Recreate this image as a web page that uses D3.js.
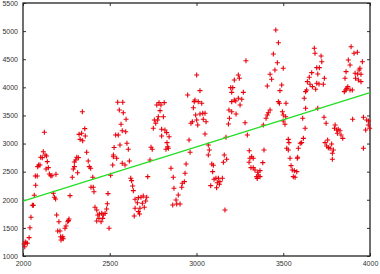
<!DOCTYPE html>
<html>
<head>
<meta charset="utf-8">
<script src="https://cdn.jsdelivr.net/npm/d3@7"></script>
<style>
  body { margin: 0; background: #fff; }
  svg text { font-family: "Liberation Sans", Arial, sans-serif; }
</style>
</head>
<body>
<svg id="chart" width="380" height="274"></svg>
<script>
// scatter values
var xs = [
  2006,2010,2017,2025,2013,2035,2040,2046,2054,2060,2065,2073,2071,2082,2085,2090,2098,2102,2111,2117,2123,2127,2136,2140,2133,2146,2152,2160,2167,2190,2175,2181,2188,2194,2207,2200,2213,2217,2229,2219,2232,2225,2242,2248,2258,2265,2262,2271,
  2284,2290,2296,2304,2310,2319,2296,2315,2342,2323,2338,2329,2344,2356,2359,2367,2376,2382,2390,2402,2392,2405,2409,2415,2425,2431,2440,2454,2463,2473,2482,2486,2438,2450,2425,2459,2496,2490,
  2505,2517,2521,2525,2521,2540,2534,2549,2546,2575,2555,2578,2594,2565,2572,2592,2559,2599,2607,2572,2613,2588,2621,2626,2632,2636,2646,2665,2680,2693,2713,2659,2688,2707,2674,2646,2699,2665,2641,2672,
  2719,2732,2738,2745,2751,2765,2757,2776,2780,2771,2784,2795,2814,2790,2809,2799,2818,2828,2799,2842,2830,2834,2824,2838,2853,2866,2870,2863,2882,2886,2895,2905,2915,2918,2930,2934,2940,
  2957,2963,2968,2976,2982,2987,2949,3001,2995,3007,3020,2991,3010,3030,3001,3020,3036,3049,3039,3055,3049,3068,3074,3068,3088,3097,3093,3101,3112,3126,3149,3135,3120,3132,3116,3082,3160,3174,3155,3164,
  3170,3184,3190,3187,3203,3203,3218,3226,3241,3261,3270,3251,3203,3197,3209,3218,3241,3247,3285,3228,3280,3293,3304,3308,3318,3327,3303,3314,3327,3337,3366,3353,3356,3366,3347,3350,3382,3389,
  3385,3401,3408,3414,3424,3408,3433,3424,3452,3443,3466,3472,3457,3481,3491,3472,3478,3500,3500,3516,3495,3514,3500,3510,
  3529,3533,3520,3529,3539,3545,3552,3564,3578,3558,3568,3581,3587,3598,3606,3616,3583,
  3612,3626,3621,3629,3635,3639,3650,3654,3664,3668,3679,3683,3693,3708,3718,3722,3699,3693,3706,3687,3737,3731,3629,3699,3735,3747,
  3741,3750,3760,3770,3756,3779,3789,3783,3783,3799,3795,3808,3817,3827,3812,3833,3843,
  3856,3862,3860,3852,3866,3872,3885,3898,3875,3885,3891,3908,3927,3914,3929,3948,3917,3933,3948,3937,3942,3956,3900,3962,3981,3975,3962,3990,3998,3992
];
var ys = [
  1213,1165,1237,1226,1250,1326,1503,1688,1902,1902,2080,2258,2423,2423,2589,2619,2619,2756,2749,2855,3200,2797,2779,2678,2548,2571,2459,2428,2428,2453,2115,2044,2014,1729,1610,1445,1445,1343,1343,1285,1308,1320,1493,1534,1610,1658,1630,2073,
  2400,2548,2589,2708,2756,2749,2672,2482,3567,3164,3182,3075,3051,3265,3135,2845,2690,2589,2560,2400,2222,2222,2144,1866,1818,1729,1747,1759,1729,1759,1836,1930,1670,1610,1622,1670,1493,2110,
  2435,2619,2797,2930,2766,2738,3153,3153,3734,3734,3597,3549,3432,3343,3229,3211,2975,3005,2898,2649,2690,2619,2382,2340,2245,2162,2009,2038,2044,2067,2044,1948,1937,1978,1848,1848,1866,1789,1711,1747,
  2411,2708,2933,2898,3271,3360,3419,3419,3478,3686,3728,3686,3728,3585,3478,3254,3241,3194,3135,3122,3016,2944,2898,2916,2560,2400,2204,1907,1996,1925,2085,1925,2222,2293,2322,2471,2637,
  3064,2845,3360,3389,3638,3745,3864,4220,3508,3330,3941,3775,3745,3716,3419,3526,3538,3538,3432,3389,3170,2975,2886,2797,2637,2613,2500,2364,2382,2382,2382,2322,2304,2275,2215,2251,2797,2720,2667,1818,
  3111,3348,3449,3597,3567,3745,3775,3757,3805,3787,3911,3686,3911,3994,3994,4131,4220,4161,4474,3526,3371,3153,2873,2738,2766,2738,2667,2571,2571,2530,2518,2489,2441,2411,2411,2380,2660,2886,
  3330,3449,3508,3549,3597,4025,4143,4232,4309,4593,4438,4794,5020,3941,4042,3745,3716,3508,4339,3716,3567,3478,3401,3343,
  3075,3016,2916,2886,2738,2607,2530,2518,2500,2411,2400,2738,2916,3005,3016,3093,2756,
  3449,3271,3805,3923,3953,4101,4179,4054,4261,4012,4694,4605,4350,4350,4558,4456,4238,4072,4060,3965,4161,4054,3627,3627,3467,3360,
  3016,2957,2927,2916,3064,2992,2886,2827,2720,3330,3271,3241,3254,3229,3182,3153,3093,
  4161,4279,3953,3923,3982,4012,3953,3953,4487,4398,4723,4605,4623,4250,4238,4232,4161,4131,4101,4309,4339,4456,3432,3467,3419,3241,2916,3330,3271,3400
];
// fitted trend line end points
var fitX = [2000, 4000];
var fitY = [1975, 3905];
var xTicks = [2000, 2500, 3000, 3500, 4000];
var yTicks = [1000, 1500, 2000, 2500, 3000, 3500, 4000, 4500, 5000, 5500];

var svg = d3.select("#chart");
var mLeft = 23, mRight = 370, mTop = 3, mBottom = 256;

var x = d3.scaleLinear().domain([2000, 4000]).range([mLeft, mRight]);
var y = d3.scaleLinear().domain([1000, 5500]).range([mBottom, mTop]);

// inward ticks on all four sides
svg.append("g").attr("transform", "translate(0," + mBottom + ")")
  .call(d3.axisBottom(x).tickValues(xTicks).tickSizeInner(-3).tickSizeOuter(0).tickPadding(5).tickFormat(d3.format("d")));
svg.append("g").attr("transform", "translate(0," + mTop + ")")
  .call(d3.axisTop(x).tickValues(xTicks).tickSizeInner(-3).tickSizeOuter(0).tickFormat(""));
svg.append("g").attr("transform", "translate(" + mLeft + ",0)")
  .call(d3.axisLeft(y).tickValues(yTicks).tickSizeInner(-3).tickSizeOuter(0).tickPadding(5).tickFormat(d3.format("d")));
svg.append("g").attr("transform", "translate(" + mRight + ",0)")
  .call(d3.axisRight(y).tickValues(yTicks).tickSizeInner(-3).tickSizeOuter(0).tickFormat(""));
svg.selectAll(".domain").remove();
svg.selectAll(".tick line").attr("stroke", "#333").attr("stroke-width", 1);
svg.selectAll(".tick text").attr("font-size", 7).attr("fill", "#333");

svg.append("rect").attr("x", mLeft).attr("y", mTop).attr("width", mRight - mLeft).attr("height", mBottom - mTop)
  .attr("fill", "none").attr("stroke", "#222").attr("stroke-width", 1.3);

var pts = xs.map((d, i) => [d, ys[i]]);
svg.selectAll(".pt").data(pts).join("path").attr("class", "pt")
  .attr("transform", d => "translate(" + x(d[0]) + "," + y(d[1]) + ")")
  .attr("d", "M-2.5,0H2.5M0,-2.5V2.5")
  .attr("stroke", "#e8000b").attr("stroke-width", 1.1).attr("fill", "none");

svg.append("path")
  .attr("d", d3.line().x(d => x(d[0])).y(d => y(d[1]))(fitX.map((d, i) => [d, fitY[i]])))
  .attr("stroke", "#22dd22").attr("stroke-width", 1.2).attr("fill", "none");
</script>
</body>
</html>
